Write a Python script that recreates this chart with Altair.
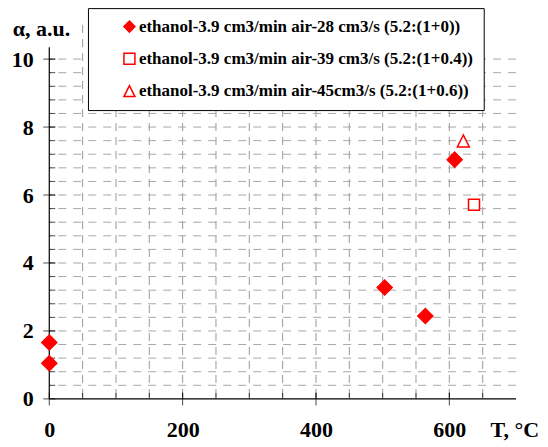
import altair as alt
import pandas as pd

SERIES = [
    "ethanol-3.9 cm3/min air-28 cm3/s (5.2:(1+0))",
    "ethanol-3.9 cm3/min air-39 cm3/s (5.2:(1+0.4))",
    "ethanol-3.9 cm3/min air-45cm3/s (5.2:(1+0.6))",
]
TRIANGLE = "M0,-1L-1,1L1,1Z"
SHAPES = ["diamond", "square", TRIANGLE]
FILLS = ["#ff0000", "#ffffff", "#ffffff"]

# measured points, T in degC, alpha in a.u.
t_air28 = [0, 0, 503, 564, 608]
a_air28 = [1.05, 1.66, 3.28, 2.44, 7.04]
t_air39 = [637]
a_air39 = [5.71]
t_air45 = [621]
a_air45 = [7.59]

x_labels = [0, 200, 400, 600]
y_labels = [0, 2, 4, 6, 8, 10]
x_grid = [50, 100, 150, 200, 250, 300, 350, 400, 450, 500, 550, 600, 650]
y_grid = [0.4, 0.8, 1.2, 1.6, 2.0, 2.4, 2.8, 3.2, 3.6, 4.0, 4.4, 4.8, 5.2,
          5.6, 6.0, 6.4, 6.8, 7.2, 7.6, 8.0, 8.4, 8.8, 9.2, 9.6, 10.0]
x_end = 700
y_axis_top = 10.35

FONT = "Liberation Serif"

xs = alt.Scale(domain=[0, 700], nice=False, zero=False)
ys = alt.Scale(domain=[0, 11], nice=False, zero=False)

x_ax = alt.Axis(
    values=x_labels, format="d", title="T, °C", grid=False, ticks=False,
    tickSize=0, domain=False, labelPadding=38, labelBaseline="alphabetic",
    labelFlush=False, titleX=441, titleY=38, titleAlign="left",
    titleBaseline="alphabetic",
)
y_ax = alt.Axis(
    values=y_labels, format="d", title="α, a.u.", grid=False, ticks=False,
    tickSize=0, domain=False, labelPadding=16, labelBaseline="middle",
    labelFlush=False, titleAngle=0, titleX=-37, titleY=10, titleAlign="left",
    titleBaseline="alphabetic",
)


def X(field):
    return alt.X(field, scale=xs, axis=x_ax)


def Y(field):
    return alt.Y(field, scale=ys, axis=y_ax)


grid_v = alt.Chart(pd.DataFrame({"T": x_grid})).mark_rule(
    color="#999999", strokeWidth=1, strokeDash=[8, 6]
).encode(x=X("T:Q"))

grid_h = alt.Chart(pd.DataFrame({"alpha": y_grid})).mark_rule(
    color="#a8a8a8", strokeWidth=1, strokeDash=[8, 7]
).encode(y=Y("alpha:Q"))

frame = pd.DataFrame({"T": [0], "T2": [x_end], "alpha": [0], "alpha2": [y_axis_top]})
y_line = alt.Chart(frame).mark_rule(color="black", strokeWidth=1.2).encode(
    x=X("T:Q"), y=Y("alpha:Q"), y2="alpha2:Q"
)
x_line = alt.Chart(frame).mark_rule(color="black", strokeWidth=1.2).encode(
    y=Y("alpha:Q"), x=X("T:Q"), x2="T2:Q"
)


def xticks(vals, size, offset):
    df = pd.DataFrame({"T": vals, "alpha": 0})
    return alt.Chart(df).mark_tick(
        orient="vertical", color="black", thickness=1, size=size, yOffset=offset
    ).encode(x=X("T:Q"), y=Y("alpha:Q"))


def yticks(vals, size, offset):
    df = pd.DataFrame({"alpha": vals, "T": 0})
    return alt.Chart(df).mark_tick(
        orient="horizontal", color="black", thickness=1, size=size, xOffset=offset
    ).encode(y=Y("alpha:Q"), x=X("T:Q"))


leg = alt.Legend(
    title=None, orient="none", legendX=38.7, legendY=-17,
    fillColor="white", strokeColor="black", padding=10,
    rowPadding=14.25, symbolOffset=23, labelOffset=1, symbolSize=121,
    symbolStrokeWidth=1.5, labelFont=FONT, labelFontSize=17,
    labelFontWeight="bold", labelColor="black", labelLimit=0,
)


def series_layer(ts, vals, name, size):
    df = pd.DataFrame({"T": ts, "alpha": vals, "series": name})
    return alt.Chart(df).mark_point(
        filled=False, strokeWidth=1.5, opacity=1, size=size
    ).encode(
        x=X("T:Q"), y=Y("alpha:Q"),
        color=alt.Color("series:N", scale=alt.Scale(domain=SERIES, range=["#ff0000"] * 3), legend=leg),
        fill=alt.Fill("series:N", scale=alt.Scale(domain=SERIES, range=FILLS), legend=leg),
        shape=alt.Shape("series:N", scale=alt.Scale(domain=SERIES, range=SHAPES), legend=leg),
    )


chart = alt.layer(
    grid_v, grid_h, y_line, x_line,
    xticks(x_grid, 6, -3), xticks(x_labels, 13, 0),
    yticks(y_grid, 6, 3), yticks(y_labels, 12, 0),
    series_layer(t_air28, a_air28, SERIES[0], 225),
    series_layer(t_air39, a_air39, SERIES[1], 121),
    series_layer(t_air45, a_air45, SERIES[2], 144),
).properties(
    width=467, height=374,
    autosize=alt.AutoSizeParams(type="none"),
    padding={"left": 41.3, "top": 17, "right": 24, "bottom": 43},
).configure_view(stroke=None).configure_axis(
    labelFont=FONT, labelFontSize=22, labelFontWeight="bold", labelColor="black",
    titleFont=FONT, titleFontSize=22, titleFontWeight="bold", titleColor="black",
)

chart.save("out.html", embed_options={"renderer": "svg", "actions": False})
